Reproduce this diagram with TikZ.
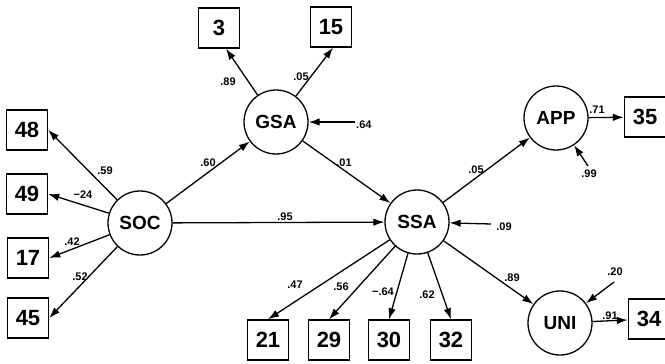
\documentclass[tikz,border=0pt]{standalone}
\usepackage{fontspec}
\setmainfont{Liberation Sans}
\usetikzlibrary{arrows.meta}
\begin{document}
\begin{tikzpicture}[x=1pt,y=-1pt,
  lat/.style={circle,draw,line width=1.3pt,minimum size=64pt,inner sep=0pt,
    font=\bfseries\fontsize{19}{19}\selectfont},
  obs/.style={rectangle,draw,line width=1.4pt,minimum width=41pt,minimum height=40pt,
    inner sep=0pt,font=\bfseries\fontsize{22}{22}\selectfont},
  path/.style={line width=1.3pt,-{Latex[length=11pt,width=7.5pt]}},
  coef/.style={font=\bfseries\fontsize{11}{11}\selectfont,inner sep=1pt}]
\useasboundingbox (0,0) rectangle (665,364);

% latent variables
\node[lat] (SOC) at (140,223) {SOC};
\node[lat] (GSA) at (276,122) {GSA};
\node[lat] (SSA) at (417,222) {SSA};
\node[lat] (APP) at (556,118) {APP};
\node[lat] (UNI) at (560,323) {UNI};

% observed indicators
\node[obs] (b48) at (27,130) {48};
\node[obs] (b49) at (27,194) {49};
\node[obs] (b17) at (28,258) {17};
\node[obs] (b45) at (28,318) {45};
\node[obs] (b3)  at (219,28) {3};
\node[obs] (b15) at (331,27) {15};
\node[obs] (b35) at (645,117) {35};
\node[obs] (b34) at (649,319) {34};
\node[obs] (b21) at (268,340) {21};
\node[obs] (b29) at (329,340) {29};
\node[obs] (b30) at (389,340) {30};
\node[obs] (b32) at (451,340) {32};

% free ends of residual arrows
\coordinate (e64) at (355,122);
\coordinate (e09) at (491,224);
\coordinate (e99) at (588,166);
\coordinate (e20) at (614,282);

% paths
\draw[path] (SOC) -- (b48.east);
\draw[path] (SOC) -- (b49.east);
\draw[path] (SOC) -- (b17.east);
\draw[path] (SOC) -- (b45.east);
\draw[path] (SOC) -- (GSA);
\draw[path] (SOC) -- (SSA);
\draw[path] (GSA) -- ([xshift=7pt]b3.south);
\draw[path] (GSA) -- ([xshift=2pt]b15.south);
\draw[path] (e64) -- (GSA);
\draw[path] (GSA) -- (SSA);
\draw[path] (e09) -- (SSA);
\draw[path] (SSA) -- (APP);
\draw[path] (e99) -- (APP);
\draw[path] (APP) -- (b35);
\draw[path] (SSA) -- (UNI);
\draw[path] (e20) -- (UNI);
\draw[path] (UNI) -- (b34);
\draw[path] (SSA) -- (b21.north);
\draw[path] (SSA) -- (b29.north);
\draw[path] (SSA) -- (b30.north);
\draw[path] (SSA) -- (b32.north);

% coefficients
\node[coef] at (105,171) {.59};
\node[coef] at (83,195) {−24};
\node[coef] at (72,242) {.42};
\node[coef] at (80,277) {.52};
\node[coef] at (208,163) {.60};
\node[coef] at (228,82) {.89};
\node[coef] at (301,77) {.05};
\node[coef,anchor=west] at (355,125) {.64};
\node[coef] at (344,163) {.01};
\node[coef] at (285,217) {.95};
\node[coef] at (476,170) {.05};
\node[coef] at (589,174) {.99};
\node[coef] at (597,110) {.71};
\node[coef] at (504,227) {.09};
\node[coef] at (295,285) {.47};
\node[coef] at (341,287) {.56};
\node[coef] at (383,292) {−.64};
\node[coef] at (427,295) {.62};
\node[coef] at (512,278) {.89};
\node[coef] at (615,272) {.20};
\node[coef] at (610,316) {.91};
\end{tikzpicture}
\end{document}
